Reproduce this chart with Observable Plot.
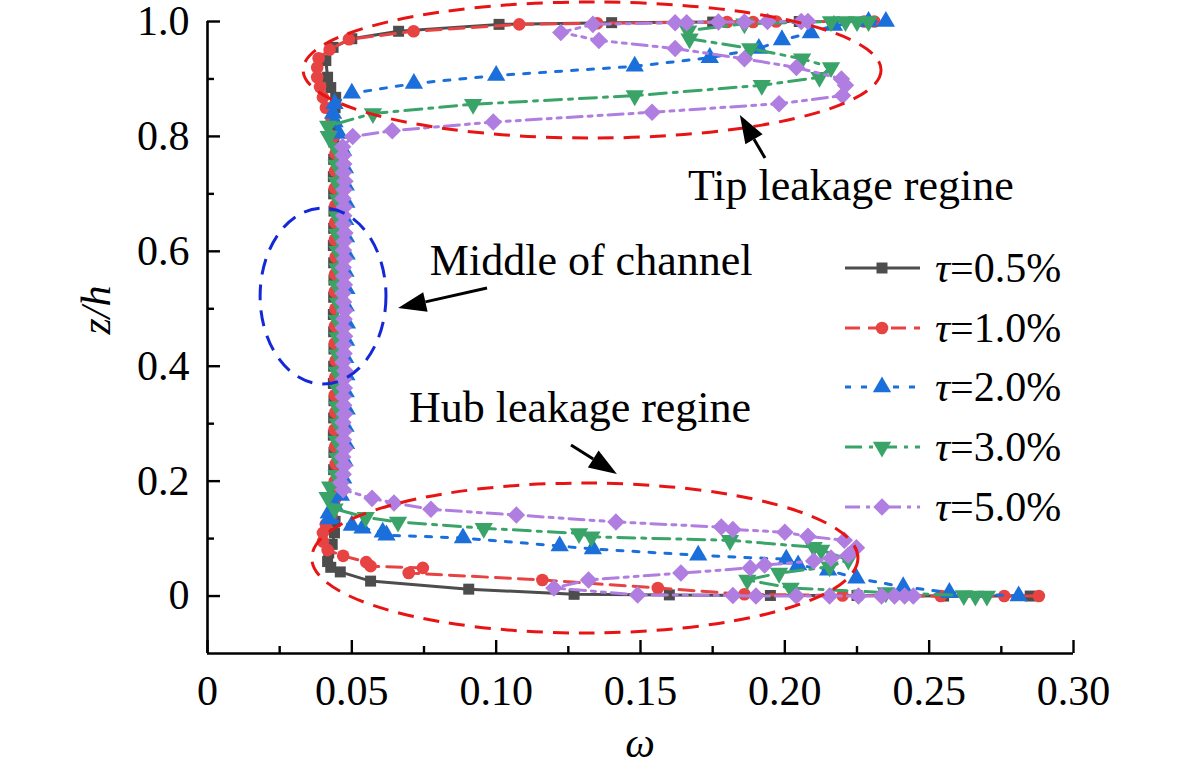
<!DOCTYPE html>
<html>
<head>
<meta charset="utf-8">
<script src="https://cdn.jsdelivr.net/npm/d3@7"></script>
<script src="https://cdn.jsdelivr.net/npm/@observablehq/plot@0.6"></script>
<style>
  html, body { margin: 0; padding: 0; background: #fff; }
  #chart { width: 1181px; height: 770px; }
</style>
</head>
<body>
<div id="chart"></div>
<script>
// ---------- axis ticks ----------
const xMajor = [0, 0.05, 0.10, 0.15, 0.20, 0.25, 0.30];
const xMinor = [0.025, 0.075, 0.125, 0.175, 0.225, 0.275];
const xTickLabels = ["0", "0.05", "0.10", "0.15", "0.20", "0.25", "0.30"];
const yMajor = [0, 0.2, 0.4, 0.6, 0.8, 1.0];
const yMinor = [0.1, 0.3, 0.5, 0.7, 0.9];
const yTickLabels = ["0", "0.2", "0.4", "0.6", "0.8", "1.0"];

// ---------- series: [omega, z/h] ----------
const tau05 = [
  [0.285,0.000],[0.255,0.000],[0.225,0.001],[0.195,0.001],[0.160,0.002],[0.127,0.003],
  [0.0905,0.012],[0.0565,0.026],[0.0460,0.042],[0.0427,0.050],[0.0416,0.060],[0.0420,0.075],
  [0.0432,0.090],[0.0440,0.110],[0.0442,0.130],
  [0.0440,0.160],[0.0438,0.190],[0.0437,0.220],[0.0438,0.250],[0.0436,0.280],[0.0437,0.310],
  [0.0438,0.340],[0.0436,0.370],[0.0437,0.400],[0.0438,0.430],[0.0437,0.460],[0.0436,0.490],
  [0.0437,0.520],[0.0438,0.550],[0.0437,0.580],[0.0436,0.610],[0.0437,0.640],[0.0438,0.670],
  [0.0437,0.700],[0.0436,0.730],[0.0437,0.760],[0.0438,0.790],[0.0440,0.820],
  [0.0442,0.850],[0.0444,0.868],[0.0427,0.885],[0.0416,0.903],[0.0410,0.932],[0.0435,0.955],
  [0.0500,0.970],[0.0662,0.983],[0.101,0.995],[0.140,0.998],[0.175,0.999],[0.205,1.000],[0.230,1.000]
];
const tau10 = [
  [0.288,0.000],[0.276,0.000],[0.254,0.000],[0.220,0.001],[0.186,0.003],[0.156,0.014],
  [0.116,0.028],[0.0697,0.040],[0.0746,0.049],[0.0565,0.052],[0.0550,0.059],[0.0470,0.070],
  [0.0416,0.080],[0.0400,0.095],[0.0400,0.110],[0.0410,0.125],[0.0430,0.140],
  [0.0443,0.170],[0.0441,0.200],[0.0444,0.230],[0.0442,0.260],[0.0440,0.290],[0.0443,0.320],
  [0.0441,0.350],[0.0442,0.380],[0.0444,0.410],[0.0441,0.440],[0.0442,0.470],[0.0443,0.500],
  [0.0441,0.530],[0.0442,0.560],[0.0444,0.590],[0.0441,0.620],[0.0442,0.650],[0.0443,0.680],
  [0.0441,0.710],[0.0442,0.740],[0.0443,0.770],[0.0438,0.800],[0.0430,0.830],
  [0.0410,0.850],[0.0400,0.868],[0.0390,0.886],[0.0380,0.903],[0.0380,0.920],[0.0385,0.936],
  [0.0423,0.951],[0.0490,0.969],[0.0714,0.983],[0.108,0.995],[0.135,0.997],[0.180,0.999],
  [0.189,0.999],[0.197,1.000],[0.2275,1.000],[0.231,1.000]
];
const tau20 = [
  [0.281,0.000],[0.257,0.006],[0.241,0.016],[0.2248,0.031],[0.215,0.045],[0.2046,0.054],
  [0.2005,0.064],[0.170,0.071],[0.1335,0.082],[0.122,0.087],[0.0885,0.101],[0.062,0.106],
  [0.0607,0.111],[0.0537,0.118],[0.050,0.123],[0.042,0.134],[0.042,0.144],[0.0440,0.158],
  [0.0462,0.175],[0.0470,0.205],[0.0475,0.235],[0.0480,0.265],[0.0478,0.295],[0.0482,0.325],
  [0.0479,0.355],[0.0481,0.385],[0.0477,0.415],[0.0480,0.445],[0.0483,0.475],[0.0479,0.505],
  [0.0481,0.535],[0.0478,0.565],[0.0482,0.595],[0.0480,0.625],[0.0477,0.655],[0.0481,0.685],
  [0.0479,0.715],[0.0476,0.745],[0.0470,0.775],[0.0455,0.805],
  [0.0440,0.825],[0.0435,0.840],[0.0440,0.857],[0.0500,0.875],[0.0715,0.892],[0.100,0.906],
  [0.148,0.922],[0.174,0.937],[0.191,0.953],[0.199,0.968],[0.209,0.980],[0.217,0.993],
  [0.229,1.000],[0.235,1.000]
];
const tau30 = [
  [0.270,0.000],[0.266,0.000],[0.262,0.001],[0.235,0.006],[0.202,0.014],[0.187,0.028],
  [0.198,0.040],[0.2155,0.051],[0.222,0.063],[0.2126,0.080],[0.210,0.085],[0.181,0.097],
  [0.133,0.103],[0.1287,0.109],[0.0957,0.118],[0.066,0.129],[0.0548,0.137],[0.0440,0.152],
  [0.0416,0.172],[0.0425,0.190],
  [0.0447,0.210],[0.0450,0.240],[0.0448,0.270],[0.0451,0.300],[0.0449,0.330],[0.0452,0.360],
  [0.0448,0.390],[0.0450,0.420],[0.0451,0.450],[0.0449,0.480],[0.0452,0.510],[0.0448,0.540],
  [0.0450,0.570],[0.0451,0.600],[0.0449,0.630],[0.0450,0.660],[0.0452,0.690],[0.0448,0.720],
  [0.0447,0.750],[0.0444,0.780],
  [0.0420,0.800],[0.0418,0.818],[0.0573,0.840],[0.092,0.856],[0.148,0.871],[0.192,0.889],
  [0.212,0.903],[0.216,0.920],[0.206,0.935],[0.188,0.953],[0.167,0.970],[0.1665,0.984],
  [0.186,0.996],[0.216,1.000],[0.221,1.000],[0.225,1.000],[0.229,1.000]
];
const tau50 = [
  [0.2445,0.000],[0.2415,0.000],[0.238,0.000],[0.2335,0.000],[0.2255,0.000],[0.2155,0.000],
  [0.204,0.000],[0.190,0.000],[0.182,0.001],[0.149,0.002],[0.120,0.014],[0.132,0.028],
  [0.164,0.040],[0.188,0.049],[0.193,0.054],[0.210,0.061],[0.216,0.066],[0.222,0.071],
  [0.2248,0.084],[0.2206,0.097],[0.208,0.104],[0.200,0.111],[0.182,0.116],[0.178,0.120],
  [0.1415,0.129],[0.107,0.141],[0.0774,0.151],[0.0646,0.162],[0.057,0.170],[0.0470,0.185],
  [0.0462,0.197],
  [0.0470,0.212],[0.0474,0.227],[0.0468,0.242],[0.0476,0.257],[0.0471,0.272],[0.0473,0.287],
  [0.0469,0.302],[0.0475,0.317],[0.0472,0.332],[0.0470,0.347],[0.0474,0.362],[0.0471,0.377],
  [0.0476,0.392],[0.0469,0.407],[0.0473,0.422],[0.0471,0.437],[0.0475,0.452],[0.0470,0.467],
  [0.0473,0.482],[0.0476,0.497],[0.0471,0.512],[0.0469,0.527],[0.0474,0.542],[0.0472,0.557],
  [0.0470,0.572],[0.0475,0.587],[0.0471,0.602],[0.0473,0.617],[0.0476,0.632],[0.0470,0.647],
  [0.0472,0.662],[0.0474,0.677],[0.0469,0.692],[0.0473,0.707],[0.0476,0.722],[0.0471,0.737],
  [0.0472,0.752],[0.0470,0.767],[0.0468,0.782],
  [0.0503,0.800],[0.064,0.810],[0.099,0.825],[0.154,0.842],[0.198,0.857],[0.220,0.871],
  [0.221,0.889],[0.2196,0.900],[0.204,0.920],[0.186,0.935],[0.162,0.953],[0.1356,0.967],
  [0.1224,0.981],[0.1335,0.995],[0.162,0.998],[0.166,0.998],[0.177,0.999],[0.186,0.999],
  [0.194,1.000],[0.2057,1.000],[0.208,1.000]
];

const seriesNames = ["0.5%", "1.0%", "2.0%", "3.0%", "5.0%"];
const seriesData = [tau05, tau10, tau20, tau30, tau50];

// ---------- annotations (data units) ----------
const regionEllipses = [
  {cx: 0.1334, cy: 0.9147, rx: 0.1001, ry: 0.1184, color: "#e81414"},
  {cx: 0.1309, cy: 0.0653, rx: 0.0946, ry: 0.1305, color: "#e81414"},
  {cx: 0.0402, cy: 0.5213, rx: 0.0218, ry: 0.1532, color: "#1428d8"}
];
const arrowTails = [[0.1933, 0.7615], [0.0970, 0.5352], [0.1261, 0.2620]];
const arrowTips  = [[0.1846, 0.8364], [0.0662, 0.5004], [0.1420, 0.2115]];
const noteTexts = ["Tip leakage regine", "Middle of channel", "Hub leakage regine"];
const notePos = [[0.1666, 0.6884], [0.0772, 0.5579], [0.0700, 0.3020]];

// ---------- styles ----------
const FONT = "'Liberation Serif', 'Times New Roman', Times, serif";
const colors = ["#4d4d4d", "#e84343", "#1b6fdb", "#3aa468", "#b07ee0"];
const dashes = [null, "15,8", "6,10", "17,7,4,7", "15,6,4,6,4,6"];

const triDown = {draw(ctx, size) {
  const y = -Math.sqrt(size / (Math.sqrt(3) * 3));
  ctx.moveTo(0, -2 * y); ctx.lineTo(-Math.sqrt(3) * y, y); ctx.lineTo(Math.sqrt(3) * y, y); ctx.closePath();
}};
const diamondSym = {draw(ctx, size) {
  const r = Math.sqrt(size / 2);
  ctx.moveTo(0, -r); ctx.lineTo(r, 0); ctx.lineTo(0, r); ctx.lineTo(-r, 0); ctx.closePath();
}};
const symbols = [d3.symbolSquare, d3.symbolCircle, d3.symbolTriangle, triDown, diamondSym];
const radii = [6.2, 6.3, 6.8, 6.8, 7.0];

const W = 1181, H = 770, mL = 207, mR = 108, mT = 21, mB = 117;
const frameW = W - mL - mR, frameH = H - mT - mB;

const dataMarks = [];
seriesData.forEach((s, i) => {
  const rows = s.map(([w, z]) => ({w, z}));
  dataMarks.push(Plot.line(rows, {x: "w", y: "z", stroke: colors[i], strokeWidth: 3,
    strokeDasharray: dashes[i] || undefined, curve: "linear"}));
  dataMarks.push(Plot.dot(rows, {x: "w", y: "z", symbol: symbols[i], r: radii[i],
    fill: colors[i], stroke: "none"}));
});

const plot = Plot.plot({
  width: W, height: H,
  marginLeft: mL, marginRight: mR, marginTop: mT, marginBottom: mB,
  x: {domain: [0, 0.3]},
  y: {domain: [-0.1, 1.0]},
  style: {fontFamily: FONT, background: "#fff", color: "#000", overflow: "visible"},
  marks: [
    ...dataMarks,
    Plot.ruleX([0], {stroke: "#000", strokeWidth: 2.6}),
    Plot.ruleY([-0.1], {stroke: "#000", strokeWidth: 2.6}),
    Plot.ruleX(xMajor, {stroke: "#000", strokeWidth: 2.4, insetTop: frameH - 13}),
    Plot.ruleX(xMinor, {stroke: "#000", strokeWidth: 2.4, insetTop: frameH - 7}),
    Plot.ruleY(yMajor, {stroke: "#000", strokeWidth: 2.4, insetRight: frameW - 13}),
    Plot.ruleY(yMinor, {stroke: "#000", strokeWidth: 2.4, insetRight: frameW - 7}),
    Plot.axisX({ticks: xMajor, tickSize: 0, tickPadding: 22, label: null, fontSize: 42,
      tickFormat: d => xTickLabels[xMajor.indexOf(d)]}),
    Plot.axisY({ticks: yMajor, tickSize: 0, tickPadding: 18, label: null, fontSize: 42,
      tickFormat: d => yTickLabels[yMajor.indexOf(d)]})
  ]
});

document.getElementById("chart").appendChild(plot);

// ---------- annotations & legend ----------
const sx = plot.scale("x"), sy = plot.scale("y");
const X = v => sx.apply(v), Y = v => sy.apply(v);
const svg = d3.select(plot);
const g = svg.append("g").attr("text-anchor", "start");

regionEllipses.forEach(e => {
  g.append("ellipse")
    .attr("cx", X(e.cx)).attr("cy", Y(e.cy))
    .attr("rx", X(e.cx + e.rx) - X(e.cx)).attr("ry", Y(e.cy) - Y(e.cy + e.ry))
    .attr("fill", "none").attr("stroke", e.color).attr("stroke-width", 3)
    .attr("stroke-dasharray", "16,10");
});

arrowTails.forEach((t, i) => {
  const x1 = X(t[0]), y1 = Y(t[1]), x2 = X(arrowTips[i][0]), y2 = Y(arrowTips[i][1]);
  const ang = Math.atan2(y2 - y1, x2 - x1);
  const L = 28, hw = 10;
  const bx = x2 - L * Math.cos(ang), by = y2 - L * Math.sin(ang);
  g.append("line").attr("x1", x1).attr("y1", y1).attr("x2", bx).attr("y2", by)
    .attr("stroke", "#000").attr("stroke-width", 3);
  const px = -Math.sin(ang) * hw, py = Math.cos(ang) * hw;
  g.append("path")
    .attr("d", `M${x2},${y2}L${bx + px},${by + py}L${bx - px},${by - py}Z`)
    .attr("fill", "#000");
});

noteTexts.forEach((t, i) => {
  g.append("text").attr("x", X(notePos[i][0])).attr("y", Y(notePos[i][1]))
    .attr("text-anchor", "start")
    .attr("font-family", FONT).attr("font-size", 44).attr("fill", "#000").text(t);
});

// axis titles
g.append("text").attr("transform", "translate(110,310) rotate(-90)")
  .attr("text-anchor", "middle").attr("font-family", FONT).attr("font-size", 42)
  .attr("font-style", "italic").text("z/h");
g.append("text").attr("x", 640).attr("y", 757)
  .attr("text-anchor", "middle").attr("font-family", FONT).attr("font-size", 42)
  .attr("font-style", "italic").text("ω");

// legend
const legendRows = [268, 328, 387, 447, 507];
seriesNames.forEach((name, i) => {
  const yy = legendRows[i];
  const lg = g.append("g");
  lg.append("line").attr("x1", 845).attr("x2", 920).attr("y1", yy).attr("y2", yy)
    .attr("stroke", colors[i]).attr("stroke-width", 3)
    .attr("stroke-dasharray", dashes[i] || null);
  lg.append("path").attr("transform", `translate(882,${yy})`)
    .attr("d", d3.symbol(symbols[i], Math.PI * radii[i] * radii[i])())
    .attr("fill", colors[i]);
  const tx = lg.append("text").attr("x", 935).attr("y", yy + 14).attr("text-anchor", "start")
    .attr("font-family", FONT).attr("font-size", 42).attr("fill", "#000");
  tx.append("tspan").attr("font-style", "italic").text("τ");
  tx.append("tspan").text("=" + name);
});
</script>
</body>
</html>
